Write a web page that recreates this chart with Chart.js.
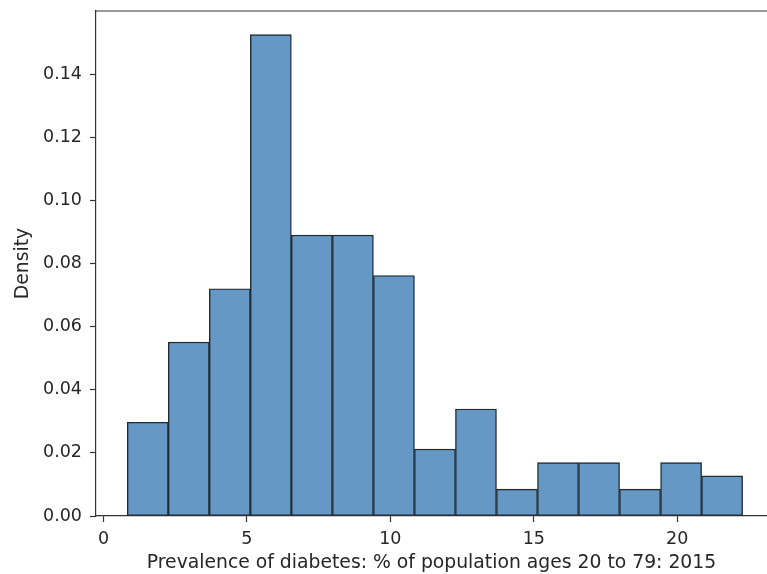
<!DOCTYPE html>
<html>
<head>
    <title>Prevalence of diabetes histogram</title>
    <script src="https://cdn.jsdelivr.net/npm/chart.js"></script>
    <style>
        html, body { margin: 0; padding: 0; background: #fff; overflow: hidden; }
        #wrap { width: 767px; height: 574px; }
    </style>
</head>
<body>
    <div id="wrap">
        <canvas id="histChart" width="767" height="574"></canvas>
    </div>

    <script>
        // bin edges (% of population)
        var binEdges = [0.83, 2.26, 3.69, 5.12, 6.55, 7.98, 9.41, 10.84, 12.27, 13.70, 15.13, 16.56, 17.99, 19.42, 20.85, 22.28];
        // density of each bin
        var density = [0.0297, 0.0551, 0.0720, 0.1525, 0.0890, 0.0890, 0.0762, 0.0212, 0.0339, 0.0085, 0.0169, 0.0169, 0.0085, 0.0169, 0.0127];
        var xTicks = [0, 5, 10, 15, 20];
        var yTicks = [0, 0.02, 0.04, 0.06, 0.08, 0.10, 0.12, 0.14];

        var points = [];
        for (var i = 0; i < density.length; i++) {
            points.push({ x: (binEdges[i] + binEdges[i + 1]) / 2, y: density[i] });
        }

        // top spine (matplotlib frame)
        var topSpine = {
            id: 'topSpine',
            afterDraw: function (chart) {
                var a = chart.chartArea, c = chart.ctx;
                c.save();
                c.strokeStyle = '#333';
                c.lineWidth = 1.2;
                c.beginPath();
                c.moveTo(a.left, a.top);
                c.lineTo(a.right, a.top);
                c.stroke();
                c.restore();
            }
        };

        var tickFont = { family: 'DejaVu Sans', size: 17.5 };
        var titleFont = { family: 'DejaVu Sans', size: 18.8 };

        var ctx = document.getElementById('histChart').getContext('2d');
        var chart = new Chart(ctx, {
            type: 'bar',
            data: {
                datasets: [{
                    data: points,
                    backgroundColor: 'rgb(101,152,196)',
                    borderColor: '#1f2a33',
                    borderWidth: 1.4,
                    borderSkipped: false,
                    barPercentage: 1,
                    categoryPercentage: 1
                }]
            },
            options: {
                responsive: false,
                animation: false,
                layout: { padding: { top: 11, right: 0, left: 0, bottom: 0 } },
                plugins: { legend: { display: false }, tooltip: { enabled: false } },
                scales: {
                    x: {
                        type: 'linear',
                        offset: false,
                        min: -0.26,
                        max: 23.13,
                        afterFit: function (s) {
                            s.height = 58;
                            s.paddingLeft = 0;
                            s.paddingRight = 0;
                        },
                        afterBuildTicks: function (s) {
                            s.ticks = xTicks.map(function (v) { return { value: v }; });
                        },
                        grid: { offset: false, drawOnChartArea: false, tickLength: 6, color: '#333', tickWidth: 1.2 },
                        border: { display: true, color: '#333', width: 1.2 },
                        ticks: { font: tickFont, color: '#262626', padding: 7, maxRotation: 0 },
                        title: {
                            display: true,
                            text: 'Prevalence of diabetes: % of population ages 20 to 79: 2015',
                            font: titleFont, color: '#262626', padding: { top: 5, bottom: 0 }
                        }
                    },
                    y: {
                        min: 0,
                        max: 0.16,
                        afterFit: function (s) {
                            s.width = 96;
                            s.paddingTop = 0;
                            s.paddingBottom = 0;
                        },
                        afterBuildTicks: function (s) {
                            s.ticks = yTicks.map(function (v) { return { value: v }; });
                        },
                        grid: { drawOnChartArea: false, tickLength: 6, color: '#333', tickWidth: 1.2 },
                        border: { display: true, color: '#333', width: 1.2 },
                        ticks: {
                            font: tickFont, color: '#262626', padding: 8,
                            callback: function (v) { return v.toFixed(2); }
                        },
                        title: {
                            display: true,
                            text: 'Density',
                            font: titleFont, color: '#262626', padding: { top: 12, bottom: 0 }
                        }
                    }
                }
            },
            plugins: [topSpine]
        });
    </script>
</body>
</html>
